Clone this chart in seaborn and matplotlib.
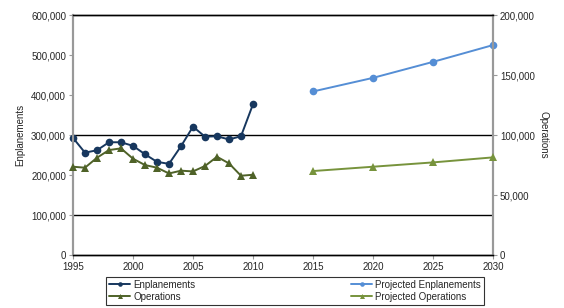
import pandas as pd
import matplotlib
matplotlib.use("Agg")
import matplotlib.pyplot as plt
import seaborn as sns
from matplotlib.ticker import FuncFormatter

# data
hist_years = list(range(1995, 2011))
enplanements = [293000, 256000, 262000, 282000, 282000, 273000, 252000, 233000,
                228000, 272000, 321000, 296000, 297000, 289000, 297000, 377000]
operations = [73600, 72800, 81100, 87500, 88900, 80300, 75000, 72800,
              68000, 70300, 69700, 74200, 81900, 76400, 66100, 66900]
proj_years = [2015, 2020, 2025, 2030]
proj_enplanements = [409000, 443000, 483000, 525000]
proj_operations = [70000, 73600, 77200, 81400]

x_ticks = [1995, 2000, 2005, 2010, 2015, 2020, 2025, 2030]

hist = pd.DataFrame({"Year": hist_years, "Enplanements": enplanements, "Operations": operations})
proj = pd.DataFrame({"Year": proj_years, "Enplanements": proj_enplanements, "Operations": proj_operations})

sns.set_style("white")
plt.rcParams["font.family"] = ["Liberation Sans", "DejaVu Sans"]
plt.rcParams["font.size"] = 7

fig = plt.figure(figsize=(5.64, 3.08), dpi=100)
ax = fig.add_axes([0.1294, 0.172, 0.7447, 0.779])
ax2 = ax.twinx()

c_enp, c_penp = "#17375E", "#558ED5"
c_ops, c_pops = "#4F6228", "#77933C"

line_kw = dict(linewidth=1.4, markeredgewidth=0, legend=False, clip_on=False, zorder=5)
sns.lineplot(data=hist, x="Year", y="Enplanements", ax=ax, color=c_enp, marker="o",
             markersize=5.5, label="Enplanements", **line_kw)
sns.lineplot(data=proj, x="Year", y="Enplanements", ax=ax, color=c_penp, marker="o",
             markersize=5.5, label="Projected Enplanements", **line_kw)
sns.lineplot(data=hist, x="Year", y="Operations", ax=ax2, color=c_ops, marker="^",
             markersize=6, label="Operations", **line_kw)
sns.lineplot(data=proj, x="Year", y="Operations", ax=ax2, color=c_pops, marker="^",
             markersize=6, label="Projected Operations", **line_kw)

ax.set_xlim(1995, 2030)
ax.set_ylim(0, 600000)
ax2.set_ylim(0, 200000)
ax.set_xticks(x_ticks)
ax.set_yticks(range(0, 600001, 100000))
ax2.set_yticks(range(0, 200001, 50000))
fmt = FuncFormatter(lambda v, p: f"{int(v):,}")
ax.yaxis.set_major_formatter(fmt)
ax2.yaxis.set_major_formatter(fmt)

for yv in [100000, 300000]:
    ax.axhline(yv, color="black", linewidth=1, zorder=0)

ax.set_xlabel("")
ax.set_ylabel("Enplanements", fontsize=7)
ax2.set_ylabel("Operations", fontsize=7, rotation=-90, labelpad=10)

for a in (ax, ax2):
    a.spines["left"].set_color("#999999")
    a.spines["right"].set_color("#999999")
    a.spines["left"].set_linewidth(1.5)
    a.spines["right"].set_linewidth(1.5)
    a.spines["top"].set_color("black")
    a.spines["bottom"].set_color("black")
    a.spines["top"].set_linewidth(1)
    a.spines["bottom"].set_linewidth(1)
    a.tick_params(length=3, width=0.8, color="#999999", labelsize=7, pad=2)
ax.tick_params(axis="y", left=True, right=False)
ax.tick_params(axis="x", bottom=True)
ax2.tick_params(axis="y", right=True)

h1, l1 = ax.get_legend_handles_labels()
h2, l2 = ax2.get_legend_handles_labels()
handles = [h1[0], h2[0], h1[1], h2[1]]
labels = [l1[0], l2[0], l1[1], l2[1]]
leg = fig.legend(handles, labels, ncol=2, loc="upper center", bbox_to_anchor=(0.523, 0.117),
                 frameon=True, fancybox=False, edgecolor="black", fontsize=7,
                 handlelength=2.2, handletextpad=0.3, columnspacing=16, labelspacing=0.2,
                 borderpad=0.3, markerscale=0.6)
leg.get_frame().set_linewidth(0.8)

fig.savefig("out.png", dpi=100)
